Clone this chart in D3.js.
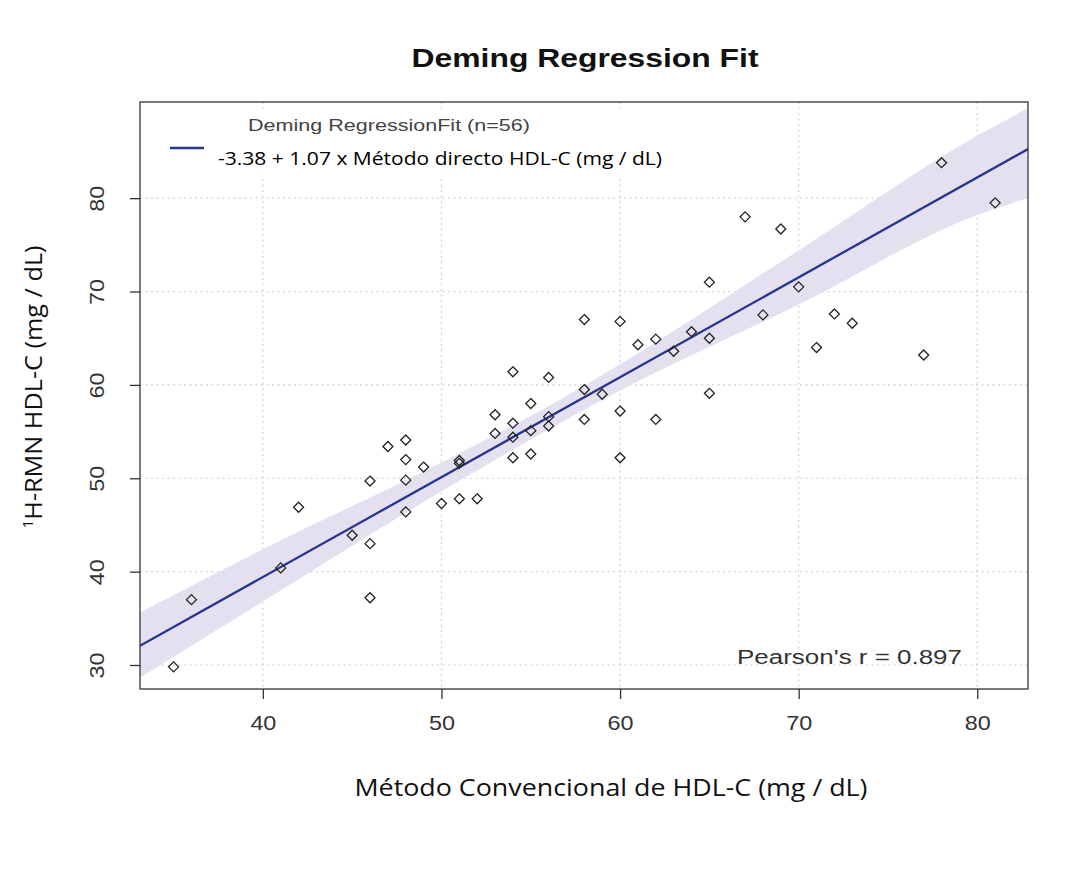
<!DOCTYPE html>
<html>
<head>
<meta charset="utf-8">
<script src="https://cdn.jsdelivr.net/npm/d3@7"></script>
<style>
  html, body { margin: 0; padding: 0; background: #fff; }
  svg { display: block; }
</style>
</head>
<body>
<svg id="chart" width="1080" height="872"></svg>
<script>
// Paired HDL-C measurements (conventional method vs 1H-NMR), mg/dL
const conventional = [
  35, 36, 41, 42, 45, 46, 46, 46, 47, 48, 48, 48, 48, 49, 50, 51, 51, 51, 52,
  53, 53, 54, 54, 54, 54, 55, 55, 55, 56, 56, 56, 58, 58, 58, 59, 60, 60, 60,
  61, 62, 62, 63, 64, 65, 65, 65, 67, 68, 69, 70, 71, 72, 73, 77, 78, 81
];
const nmr = [
  29.8, 37.0, 40.4, 46.9, 43.9, 49.7, 43.0, 37.2, 53.4, 54.1, 52.0, 49.8, 46.4, 51.2, 47.3, 51.9, 51.6, 47.8, 47.8,
  56.8, 54.8, 61.4, 55.9, 54.4, 52.2, 58.0, 55.1, 52.6, 60.8, 56.6, 55.6, 67.0, 59.5, 56.3, 59.0, 66.8, 57.2, 52.2,
  64.3, 64.9, 56.3, 63.6, 65.7, 71.0, 65.0, 59.1, 78.0, 67.5, 76.7, 70.5, 64.0, 67.6, 66.6, 63.2, 83.8, 79.5
];

// Deming fit coefficients
const intercept = -3.38;
const slope = 1.07;
const pearsonR = 0.897;

// Confidence band of the fit (lower / upper bound at selected x)
const bandX     = [33.1, 40.0, 50.0, 57.0, 60.0, 70.0, 80.0, 82.8];
const bandLower = [28.6, 36.8, 48.6, 56.3, 59.4, 68.6, 78.2, 80.0];
const bandUpper = [35.6, 42.4, 51.7, 58.8, 62.2, 74.4, 86.7, 89.6];

const xTicks = [40, 50, 60, 70, 80];
const yTicks = [30, 40, 50, 60, 70, 80];

const title = "Deming Regression Fit";
const legendTitle = "Deming RegressionFit (n=56)";
const legendLabel = "-3.38 + 1.07 x Método directo HDL-C (mg / dL)";
const xLabel = "Método Convencional de HDL-C (mg / dL)";

const svg = d3.select("#chart");
const plot = { left: 140, right: 1028, top: 102, bottom: 689 };

const x = d3.scaleLinear().domain([33.12, 82.84]).range([plot.left, plot.right]);
const y = d3.scaleLinear().domain([27.43, 90.3]).range([plot.bottom, plot.top]);

svg.append("rect").attr("width", 1080).attr("height", 872).attr("fill", "#fff");

// dotted grid
const grid = svg.append("g").attr("stroke", "#cfcfcf").attr("stroke-width", 1.2)
  .attr("stroke-dasharray", "2,3.5");
grid.selectAll("line.v").data(xTicks).join("line").attr("class", "v")
  .attr("x1", d => x(d)).attr("x2", d => x(d))
  .attr("y1", plot.top).attr("y2", plot.bottom);
grid.selectAll("line.h").data(yTicks).join("line").attr("class", "h")
  .attr("x1", plot.left).attr("x2", plot.right)
  .attr("y1", d => y(d)).attr("y2", d => y(d));

// clip to the plot box
svg.append("clipPath").attr("id", "plotClip").append("rect")
  .attr("x", plot.left).attr("y", plot.top)
  .attr("width", plot.right - plot.left).attr("height", plot.bottom - plot.top);

const inner = svg.append("g").attr("clip-path", "url(#plotClip)");

// confidence band
const band = bandX.map((v, i) => ({ x: v, lo: bandLower[i], hi: bandUpper[i] }));
inner.append("path")
  .datum(band)
  .attr("fill", "#e5e0f0")
  .attr("d", d3.area().curve(d3.curveMonotoneX)
    .x(d => x(d.x)).y0(d => y(d.lo)).y1(d => y(d.hi)));

// fitted line
const xd = x.domain();
inner.append("line")
  .attr("x1", x(xd[0])).attr("y1", y(intercept + slope * xd[0]))
  .attr("x2", x(xd[1])).attr("y2", y(intercept + slope * xd[1]))
  .attr("stroke", "#27358c").attr("stroke-width", 2.3);

// open diamond markers
const pts = conventional.map((v, i) => ({ x: v, y: nmr[i] }));
const r = 5;
inner.selectAll("path.pt").data(pts).join("path").attr("class", "pt")
  .attr("d", d => {
    const cx = x(d.x), cy = y(d.y);
    return `M${cx},${cy - r}L${cx + r},${cy}L${cx},${cy + r}L${cx - r},${cy}Z`;
  })
  .attr("fill", "none").attr("stroke", "#222").attr("stroke-width", 1.3);

// box
svg.append("rect")
  .attr("x", plot.left).attr("y", plot.top)
  .attr("width", plot.right - plot.left).attr("height", plot.bottom - plot.top)
  .attr("fill", "none").attr("stroke", "#333").attr("stroke-width", 1.3);

// axes
const axisFont = "'Liberation Sans', Arial, sans-serif";
const xAxis = svg.append("g").attr("transform", `translate(0,${plot.bottom})`)
  .call(d3.axisBottom(x).tickValues(xTicks).tickSize(10).tickPadding(17).tickFormat(d3.format("d")));
const yAxis = svg.append("g").attr("transform", `translate(${plot.left},0)`)
  .call(d3.axisLeft(y).tickValues(yTicks).tickSize(10).tickPadding(6).tickFormat(d3.format("d")));
[xAxis, yAxis].forEach(a => {
  a.select(".domain").remove();
  a.selectAll(".tick line").attr("stroke", "#333").attr("stroke-width", 1.3);
  a.selectAll(".tick text").attr("fill", "#333")
    .style("font-family", axisFont).style("font-size", "20px")
    .attr("textLength", 26).attr("lengthAdjust", "spacingAndGlyphs");
});
yAxis.selectAll(".tick text")
  .attr("text-anchor", "middle")
  .attr("x", 0).attr("dy", 0)
  .attr("transform", "translate(-43,0) rotate(-90)")
  .attr("dominant-baseline", "central");

// title
svg.append("text").attr("x", 585).attr("y", 67)
  .attr("text-anchor", "middle")
  .attr("textLength", 347).attr("lengthAdjust", "spacingAndGlyphs")
  .style("font-family", axisFont).style("font-weight", "bold").style("font-size", "26px")
  .attr("fill", "#111").text(title);

// legend
svg.append("rect").attr("x", 150).attr("y", 109).attr("width", 530).attr("height", 66).attr("fill", "#fff");
svg.append("text").attr("x", 248).attr("y", 131)
  .attr("textLength", 282).attr("lengthAdjust", "spacingAndGlyphs")
  .style("font-family", axisFont).style("font-size", "17px")
  .attr("fill", "#444").text(legendTitle);
svg.append("line").attr("x1", 170).attr("x2", 204).attr("y1", 148).attr("y2", 148)
  .attr("stroke", "#27358c").attr("stroke-width", 2.3);
svg.append("text").attr("x", 218).attr("y", 165)
  .attr("textLength", 444).attr("lengthAdjust", "spacingAndGlyphs")
  .style("font-family", "'Open Sans', sans-serif").style("font-size", "19px")
  .attr("fill", "#000").text(legendLabel);

// correlation note
svg.append("text").attr("x", 962).attr("y", 664)
  .attr("text-anchor", "end")
  .attr("textLength", 225).attr("lengthAdjust", "spacingAndGlyphs")
  .style("font-family", axisFont).style("font-size", "20px")
  .attr("fill", "#333").text(`Pearson's r = ${pearsonR}`);

// axis titles
svg.append("text").attr("x", 611).attr("y", 796)
  .attr("text-anchor", "middle")
  .attr("textLength", 513).attr("lengthAdjust", "spacingAndGlyphs")
  .style("font-family", "'Open Sans', sans-serif").style("font-size", "24px")
  .attr("fill", "#111").text(xLabel);

const yl = svg.append("text")
  .attr("transform", "translate(42,387) rotate(-90)")
  .attr("text-anchor", "middle")
  .attr("textLength", 283).attr("lengthAdjust", "spacingAndGlyphs")
  .style("font-family", "'Open Sans', sans-serif").style("font-size", "23px")
  .attr("fill", "#111");
yl.append("tspan").attr("baseline-shift", "super").style("font-size", "14px").text("1");
yl.append("tspan").text("H-RMN HDL-C (mg / dL)");
</script>
</body>
</html>
